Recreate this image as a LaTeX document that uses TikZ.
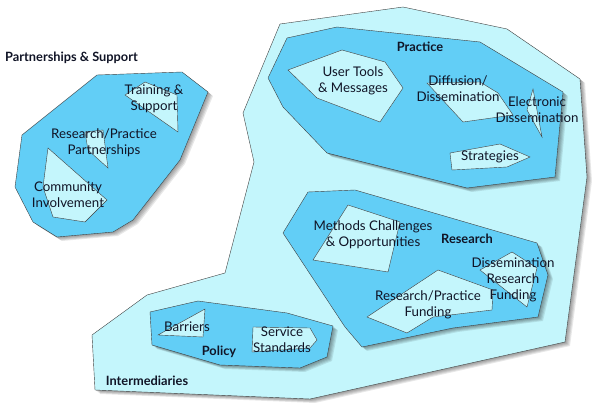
\documentclass[tikz,border=0pt]{standalone}
\usepackage{fontspec}
\setmainfont{Lato}
\definecolor{paleblue}{RGB}{196,246,252}
\definecolor{midblue}{RGB}{98,206,246}
\definecolor{inkblack}{RGB}{16,20,38}

% soft shadow: the same outline, stacked a few times
\newcommand{\softshadow}[1]{%
  \foreach \s in {1,...,5}{\fill[black, opacity=0.09, shift={(\s,0.8*\s)}] #1;}}

\tikzset{
  edge/.style={draw=black!75},
  outerarea/.style={fill=paleblue},
  cluster/.style={fill=midblue},
  topic/.style={edge, fill=paleblue},
  topiclabel/.style={align=center, inner sep=0pt, text=inkblack,
    font=\fontsize{13.3}{16}\selectfont},
  grouplabel/.style={inner sep=0pt, text=inkblack, font=\bfseries\fontsize{12.8}{15}\selectfont}
}

\begin{document}
\begin{tikzpicture}[x=1pt, y=-1pt]
  % Same Bounding Box
  \useasboundingbox (0,0) rectangle (598,414);

  \def\intermediaries{(280,24) -- (403,7) -- (507,29) -- (580,79) -- (587,177) -- (565,342)
    -- (310,399) -- (95,390) -- (92,335) -- (147,295) -- (225,273) -- (254,162) -- (243,113) -- cycle}
  \def\partnerships{(97,75) -- (182,72) -- (208,92) -- (180,160) -- (133,220) -- (113,232)
    -- (57,237) -- (33,222) -- (15,187) -- (22,135) -- cycle}
  \def\practice{(287,38) -- (337,27) -- (480,42) -- (563,92) -- (555,177) -- (467,188)
    -- (327,153) -- (283,107) -- (268,78) -- cycle}
  \def\research{(308,192) -- (355,190) -- (537,243) -- (548,275) -- (538,317) -- (453,328)
    -- (362,347) -- (345,327) -- (283,233) -- cycle}
  \def\policy{(150,312) -- (198,301) -- (287,313) -- (333,326) -- (327,357) -- (300,368)
    -- (220,365) -- (152,345) -- cycle}

  % Outer area
  \softshadow{\intermediaries}
  \fill[outerarea] \intermediaries;
  \draw[edge] \intermediaries;

  % Clusters
  \softshadow{\partnerships}
  \softshadow{\practice}
  \softshadow{\research}
  \softshadow{\policy}
  \fill[cluster] \partnerships;
  \fill[cluster] \practice;
  \fill[cluster] \research;
  \fill[cluster] \policy;
  \draw[edge] \partnerships;
  \draw[edge] \practice;
  \draw[edge] \research;
  \draw[edge] \policy;

  % Topics: Partnerships & Support
  \draw[topic] (125,95) -- (145,82) -- (177,95) -- (178,132) -- cycle;
  \draw[topic] (85,132) -- (103,130) -- (108,168) -- (88,150) -- cycle;
  \draw[topic] (48,148) -- (107,200) -- (100,207) -- (85,222) -- (53,217) -- (43,187) -- cycle;

  % Topics: Practice
  \draw[topic] (288,70) -- (342,50) -- (385,62) -- (403,88) -- (380,122) -- (317,98) -- cycle;
  \draw[topic] (427,83) -- (480,82) -- (498,93) -- (513,115) -- (463,122) -- cycle;
  \draw[topic] (533,89) -- (542,137) -- (527,110) -- cycle;
  \draw[topic] (450,153) -- (500,144) -- (530,157) -- (507,167) -- (452,170) -- cycle;

  % Topics: Research
  \draw[topic] (348,205) -- (400,222) -- (388,272) -- (313,260) -- cycle;
  \draw[topic] (480,270) -- (512,252) -- (537,268) -- (527,307) -- cycle;
  \draw[topic] (367,317) -- (438,270) -- (493,290) -- (492,310) -- (433,317) -- (407,333) -- cycle;

  % Topics: Policy
  \draw[topic] (158,335) -- (205,309) -- (203,337) -- cycle;
  \draw[topic] (253,327) -- (310,328) -- (317,340) -- (310,348) -- (252,352) -- cycle;

  % Labels
  \node[grouplabel, anchor=west] (partlbl) at (5,58) {Partnerships \& Support};
  \node[grouplabel] (praclbl) at (420,47) {Practice};
  \node[grouplabel] (reslbl) at (467,239) {Research};
  \node[grouplabel] (pollbl) at (219,352) {Policy};
  \node[grouplabel] (intlbl) at (147,381) {Intermediaries};

  \node[topiclabel] (training) at (154,99) {Training \&\\Support};
  \node[topiclabel] (rppart) at (104,143) {Research/Practice\\Partnerships};
  \node[topiclabel] (community) at (68,195) {Community\\Involvement};
  \node[topiclabel] (usertools) at (353,81) {User Tools\\\& Messages};
  \node[topiclabel] (diffusion) at (458,89) {Diffusion/\\Dissemination};
  \node[topiclabel] (electronic) at (537,110) {Electronic\\Dissemination};
  \node[topiclabel] (strategies) at (490,157) {Strategies};
  \node[topiclabel] (methods) at (373,235) {Methods Challenges\\\& Opportunities};
  \node[topiclabel] (dissfund) at (513,280) {Dissemination\\Research\\Funding};
  \node[topiclabel] (rpfund) at (428,305) {Research/Practice\\Funding};
  \node[topiclabel] (barriers) at (187,327) {Barriers};
  \node[topiclabel] (service) at (282,340) {Service\\Standards};
\end{tikzpicture}
\end{document}
